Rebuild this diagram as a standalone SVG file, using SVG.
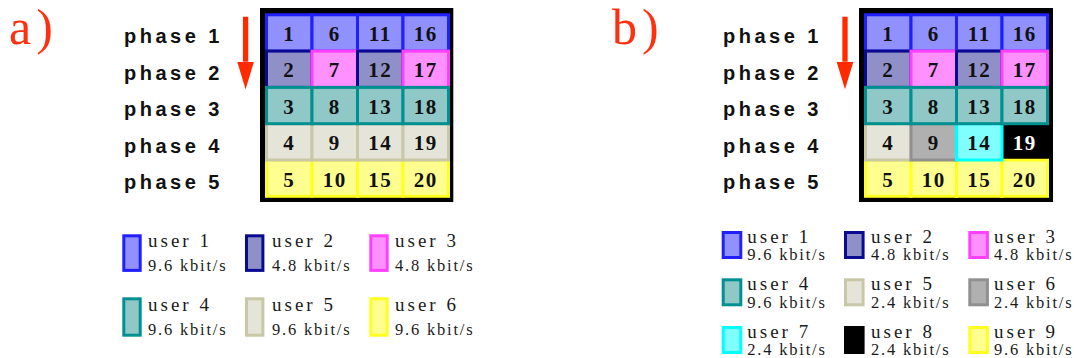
<svg xmlns="http://www.w3.org/2000/svg" width="1074" height="358" viewBox="0 0 1074 358">
  <style>
    .lbl { font-family: "Liberation Serif", "Times New Roman", serif; font-size: 50px; fill: #ff3010; letter-spacing: 5px; }
    .phase { font-family: "Liberation Sans", Arial, sans-serif; font-weight: bold; font-size: 20px; letter-spacing: 3.5px; fill: #111; }
    .num { font-family: "Liberation Serif", "Times New Roman", serif; font-weight: bold; font-size: 21px; letter-spacing: 1.5px; text-anchor: middle; fill: #111; }
    .num.w { fill: #fff; }
    .frame { fill: #000; }
    .u1 { fill: #9090ff; stroke: #2020ff; stroke-width: 3; }
    .u2 { fill: #9090c8; stroke: #0a0a90; stroke-width: 3; }
    .u3 { fill: #ff90ff; stroke: #ff40ff; stroke-width: 3; }
    .u4 { fill: #90c8c8; stroke: #009090; stroke-width: 3; }
    .u5 { fill: #e4e4d8; stroke: #c8c8a8; stroke-width: 3; }
    .uy { fill: #ffff90; stroke: #ffff20; stroke-width: 3; }
    .ug { fill: #b0b0b0; stroke: #909090; stroke-width: 3; }
    .uc { fill: #80ffff; stroke: #00ffff; stroke-width: 3; }
    .uk { fill: #000; stroke: none; }
    .user { font-family: "Liberation Serif", "Times New Roman", serif; font-size: 19px; letter-spacing: 3px; fill: #1a1a1a; }
    .rate { font-family: "Liberation Serif", "Times New Roman", serif; font-size: 16.5px; letter-spacing: 1.8px; fill: #1a1a1a; }
    .arrow { stroke: #ff2a00; stroke-width: 5.3; fill: none; }
  </style>
  <defs>
    <marker id="head" markerUnits="userSpaceOnUse" markerWidth="30" markerHeight="20" viewBox="0 -10 30 20" refX="0" refY="0" orient="auto">
      <path d="M0,-8.4 L27.6,0 L0,8.4 z" fill="#ff2a00"/>
    </marker>
  </defs>

  <!-- panel labels -->
  <text class="lbl" x="9" y="44">a)</text>
  <text class="lbl" x="612" y="44">b)</text>

  <!-- phase labels -->
  <g id="phases-a">
    <text class="phase" x="124" y="43">phase 1</text>
    <text class="phase" x="124" y="79.5">phase 2</text>
    <text class="phase" x="124" y="116">phase 3</text>
    <text class="phase" x="124" y="152.5">phase 4</text>
    <text class="phase" x="124" y="189">phase 5</text>
  </g>
  <g id="phases-b">
    <text class="phase" x="723" y="43">phase 1</text>
    <text class="phase" x="723" y="79.5">phase 2</text>
    <text class="phase" x="723" y="116">phase 3</text>
    <text class="phase" x="723" y="152.5">phase 4</text>
    <text class="phase" x="723" y="189">phase 5</text>
  </g>

  <!-- time direction arrows -->
  <g id="connectors">
    <path class="arrow" d="M245.6,16.7 V61.7" marker-end="url(#head)"/>
    <path class="arrow" d="M845,16.7 V61.7" marker-end="url(#head)"/>
  </g>

  <!-- ===== panel a: slot grid ===== -->
  <g id="grid-a">
    <rect class="frame" x="260" y="8" width="193.3" height="194"/>
    <!-- phase 1 -->
    <g id="a-1"><rect class="u1" x="266.5" y="14.8" width="45.5" height="36.3"/><text class="num" x="289.25" y="40.7">1</text></g>
    <g id="a-6"><rect class="u1" x="312" y="14.8" width="45.5" height="36.3"/><text class="num" x="334.75" y="40.7">6</text></g>
    <g id="a-11"><rect class="u1" x="357.5" y="14.8" width="45.5" height="36.3"/><text class="num" x="380.25" y="40.7">11</text></g>
    <g id="a-16"><rect class="u1" x="403" y="14.8" width="45.5" height="36.3"/><text class="num" x="425.75" y="40.7">16</text></g>
    <!-- phase 2 -->
    <g id="a-2"><rect class="u2" x="266.5" y="51.1" width="45.5" height="36.3"/><text class="num" x="289.25" y="77.3">2</text></g>
    <g id="a-7"><rect class="u3" x="312" y="51.1" width="45.5" height="36.3"/><text class="num" x="334.75" y="77.3">7</text></g>
    <g id="a-12"><rect class="u2" x="357.5" y="51.1" width="45.5" height="36.3"/><text class="num" x="380.25" y="77.3">12</text></g>
    <g id="a-17"><rect class="u3" x="403" y="51.1" width="45.5" height="36.3"/><text class="num" x="425.75" y="77.3">17</text></g>
    <!-- phase 5 -->
    <g id="a-5"><rect class="uy" x="266.5" y="160" width="45.5" height="36.3"/><text class="num" x="289.25" y="186.6">5</text></g>
    <g id="a-10"><rect class="uy" x="312" y="160" width="45.5" height="36.3"/><text class="num" x="334.75" y="186.6">10</text></g>
    <g id="a-15"><rect class="uy" x="357.5" y="160" width="45.5" height="36.3"/><text class="num" x="380.25" y="186.6">15</text></g>
    <g id="a-20"><rect class="uy" x="403" y="160" width="45.5" height="36.3"/><text class="num" x="425.75" y="186.6">20</text></g>
    <!-- phase 4 -->
    <g id="a-4"><rect class="u5" x="266.5" y="123.7" width="45.5" height="36.3"/><text class="num" x="289.25" y="150.3">4</text></g>
    <g id="a-9"><rect class="u5" x="312" y="123.7" width="45.5" height="36.3"/><text class="num" x="334.75" y="150.3">9</text></g>
    <g id="a-14"><rect class="u5" x="357.5" y="123.7" width="45.5" height="36.3"/><text class="num" x="380.25" y="150.3">14</text></g>
    <g id="a-19"><rect class="u5" x="403" y="123.7" width="45.5" height="36.3"/><text class="num" x="425.75" y="150.3">19</text></g>
    <!-- phase 3 -->
    <g id="a-3"><rect class="u4" x="266.5" y="87.4" width="45.5" height="36.3"/><text class="num" x="289.25" y="114">3</text></g>
    <g id="a-8"><rect class="u4" x="312" y="87.4" width="45.5" height="36.3"/><text class="num" x="334.75" y="114">8</text></g>
    <g id="a-13"><rect class="u4" x="357.5" y="87.4" width="45.5" height="36.3"/><text class="num" x="380.25" y="114">13</text></g>
    <g id="a-18"><rect class="u4" x="403" y="87.4" width="45.5" height="36.3"/><text class="num" x="425.75" y="114">18</text></g>
  </g>

  <!-- ===== panel b: slot grid ===== -->
  <g id="grid-b">
    <rect class="frame" x="859" y="8" width="194" height="194"/>
    <!-- phase 1 -->
    <g id="b-1"><rect class="u1" x="865.5" y="14.8" width="45.5" height="36.3"/><text class="num" x="888.25" y="40.7">1</text></g>
    <g id="b-6"><rect class="u1" x="911" y="14.8" width="45.5" height="36.3"/><text class="num" x="933.75" y="40.7">6</text></g>
    <g id="b-11"><rect class="u1" x="956.5" y="14.8" width="45.5" height="36.3"/><text class="num" x="979.25" y="40.7">11</text></g>
    <g id="b-16"><rect class="u1" x="1002" y="14.8" width="45.5" height="36.3"/><text class="num" x="1024.75" y="40.7">16</text></g>
    <!-- phase 2 -->
    <g id="b-2"><rect class="u2" x="865.5" y="51.1" width="45.5" height="36.3"/><text class="num" x="888.25" y="77.3">2</text></g>
    <g id="b-7"><rect class="u3" x="911" y="51.1" width="45.5" height="36.3"/><text class="num" x="933.75" y="77.3">7</text></g>
    <g id="b-12"><rect class="u2" x="956.5" y="51.1" width="45.5" height="36.3"/><text class="num" x="979.25" y="77.3">12</text></g>
    <g id="b-17"><rect class="u3" x="1002" y="51.1" width="45.5" height="36.3"/><text class="num" x="1024.75" y="77.3">17</text></g>
    <!-- phase 5 -->
    <g id="b-5"><rect class="uy" x="865.5" y="160" width="45.5" height="36.3"/><text class="num" x="888.25" y="186.6">5</text></g>
    <g id="b-10"><rect class="uy" x="911" y="160" width="45.5" height="36.3"/><text class="num" x="933.75" y="186.6">10</text></g>
    <g id="b-15"><rect class="uy" x="956.5" y="160" width="45.5" height="36.3"/><text class="num" x="979.25" y="186.6">15</text></g>
    <g id="b-20"><rect class="uy" x="1002" y="160" width="45.5" height="36.3"/><text class="num" x="1024.75" y="186.6">20</text></g>
    <!-- phase 4 -->
    <g id="b-19"><rect class="uk" x="1002" y="123.7" width="51" height="34.8"/><text class="num w" x="1024.75" y="150.3">19</text></g>
    <g id="b-4"><rect class="u5" x="865.5" y="123.7" width="45.5" height="36.3"/><text class="num" x="888.25" y="150.3">4</text></g>
    <g id="b-9"><rect class="ug" x="911" y="123.7" width="45.5" height="36.3"/><text class="num" x="933.75" y="150.3">9</text></g>
    <g id="b-14"><rect class="uc" x="956.5" y="123.7" width="45.5" height="36.3"/><text class="num" x="979.25" y="150.3">14</text></g>
    <!-- phase 3 -->
    <g id="b-3"><rect class="u4" x="865.5" y="87.4" width="45.5" height="36.3"/><text class="num" x="888.25" y="114">3</text></g>
    <g id="b-8"><rect class="u4" x="911" y="87.4" width="45.5" height="36.3"/><text class="num" x="933.75" y="114">8</text></g>
    <g id="b-13"><rect class="u4" x="956.5" y="87.4" width="45.5" height="36.3"/><text class="num" x="979.25" y="114">13</text></g>
    <g id="b-18"><rect class="u4" x="1002" y="87.4" width="45.5" height="36.3"/><text class="num" x="1024.75" y="114">18</text></g>
  </g>

  <!-- ===== legend a ===== -->
  <g id="legend-a">
    <g id="la-user1"><rect class="u1" x="123.8" y="235.8" width="16.4" height="34.6"/><text class="user" x="148" y="246.7">user 1</text><text class="rate" x="148" y="271">9.6 kbit/s</text></g>
    <g id="la-user2"><rect class="u2" x="246.5" y="235.8" width="16.4" height="34.6"/><text class="user" x="272" y="246.7">user 2</text><text class="rate" x="272" y="271">4.8 kbit/s</text></g>
    <g id="la-user3"><rect class="u3" x="370.8" y="235.8" width="16.4" height="34.6"/><text class="user" x="395" y="246.7">user 3</text><text class="rate" x="395" y="271">4.8 kbit/s</text></g>
    <g id="la-user4"><rect class="u4" x="123.8" y="298.8" width="16.4" height="36.4"/><text class="user" x="148" y="310.7">user 4</text><text class="rate" x="148" y="335">9.6 kbit/s</text></g>
    <g id="la-user5"><rect class="u5" x="246.5" y="298.8" width="16.4" height="36.4"/><text class="user" x="272" y="310.7">user 5</text><text class="rate" x="272" y="335">9.6 kbit/s</text></g>
    <g id="la-user6"><rect class="uy" x="370.8" y="298.8" width="16.4" height="36.4"/><text class="user" x="395" y="310.7">user 6</text><text class="rate" x="395" y="335">9.6 kbit/s</text></g>
  </g>

  <!-- ===== legend b ===== -->
  <g id="legend-b">
    <g id="lb-user1"><rect class="u1" x="723.2" y="232.5" width="17.6" height="25"/><text class="user" x="747.3" y="242.7">user 1</text><text class="rate" x="747.3" y="260">9.6 kbit/s</text></g>
    <g id="lb-user2"><rect class="u2" x="845.5" y="232.5" width="17.6" height="25"/><text class="user" x="871" y="242.7">user 2</text><text class="rate" x="871" y="260">4.8 kbit/s</text></g>
    <g id="lb-user3"><rect class="u3" x="969.8" y="232.5" width="17.6" height="25"/><text class="user" x="994" y="242.7">user 3</text><text class="rate" x="994" y="260">4.8 kbit/s</text></g>
    <g id="lb-user4"><rect class="u4" x="723.2" y="279.8" width="17.6" height="25"/><text class="user" x="747.3" y="290">user 4</text><text class="rate" x="747.3" y="307.7">9.6 kbit/s</text></g>
    <g id="lb-user5"><rect class="u5" x="845.5" y="279.8" width="17.6" height="25"/><text class="user" x="871" y="290">user 5</text><text class="rate" x="871" y="307.7">2.4 kbit/s</text></g>
    <g id="lb-user6"><rect class="ug" x="969.8" y="279.8" width="17.6" height="25"/><text class="user" x="994" y="290">user 6</text><text class="rate" x="994" y="307.7">2.4 kbit/s</text></g>
    <g id="lb-user7"><rect class="uc" x="723.2" y="327.5" width="17.6" height="25"/><text class="user" x="747.3" y="337.5">user 7</text><text class="rate" x="747.3" y="355">2.4 kbit/s</text></g>
    <g id="lb-user8"><rect class="uk" x="844" y="326" width="20.6" height="28"/><text class="user" x="871" y="337.5">user 8</text><text class="rate" x="871" y="355">2.4 kbit/s</text></g>
    <g id="lb-user9"><rect class="uy" x="969.8" y="327.5" width="17.6" height="25"/><text class="user" x="994" y="337.5">user 9</text><text class="rate" x="994" y="355">9.6 kbit/s</text></g>
  </g>
</svg>
